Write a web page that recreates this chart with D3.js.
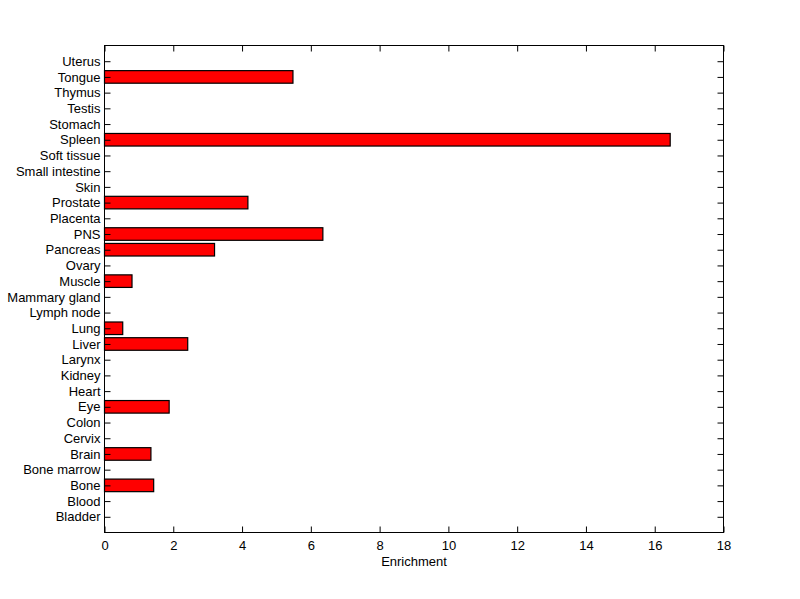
<!DOCTYPE html>
<html>
<head>
<meta charset="utf-8">
<script src="https://cdn.jsdelivr.net/npm/d3@7"></script>
<style>
  body { margin: 0; background: #fff; }
  text { font-family: "Liberation Sans", Arial, sans-serif; }
</style>
</head>
<body>
<div id="chart"></div>
<script>
// categories, bottom to top
const tissues = ["Bladder", "Blood", "Bone", "Bone marrow", "Brain", "Cervix", "Colon", "Eye",
    "Heart", "Kidney", "Larynx", "Liver", "Lung", "Lymph node", "Mammary gland", "Muscle",
    "Ovary", "Pancreas", "PNS", "Placenta", "Prostate", "Skin", "Small intestine",
    "Soft tissue", "Spleen", "Stomach", "Testis", "Thymus", "Tongue", "Uterus"];
const enrichment = [0, 0, 1.43, 0, 1.35, 0, 0, 1.88,
    0, 0, 0, 2.42, 0.53, 0, 0, 0.80,
    0, 3.20, 6.35, 0, 4.17, 0, 0,
    0, 16.45, 0, 0, 0, 5.48, 0];
const xTicks = [0, 2, 4, 6, 8, 10, 12, 14, 16, 18];

const width = 800;
const height = 599;
const margin = { left: 104.5, right: 76.5, top: 45.5, bottom: 66.5 };
const plotW = width - margin.left - margin.right;
const plotH = height - margin.top - margin.bottom;

const svg = d3.select("#chart")
    .append("svg")
    .attr("width", width)
    .attr("height", height)
    .append("g")
    .attr("transform", `translate(${margin.left}, ${margin.top})`);

const data = tissues.map((t, i) => ({ name: t, pos: i + 1, value: enrichment[i] }));

const xScale = d3.scaleLinear().domain([0, 18]).range([0, plotW]);
// positions 1..30 with half a slot padding each side (like matlab)
const yScale = d3.scaleLinear().domain([0, tissues.length + 1]).range([plotH, 0]);
const slot = plotH / (tissues.length + 1);
const barH = slot * 0.8;

// bars
svg.selectAll("rect.bar")
    .data(data.filter(d => d.value > 0))
    .enter()
    .append("rect")
    .attr("class", "bar")
    .attr("x", xScale(0))
    .attr("y", d => yScale(d.pos) - barH / 2)
    .attr("width", d => xScale(d.value) - xScale(0))
    .attr("height", barH)
    .attr("fill", "#ff0000")
    .attr("stroke", "#000")
    .attr("stroke-width", 1.2);

const tickLen = 6;

// bottom axis
const xAxis = svg.append("g")
    .attr("transform", `translate(0, ${plotH})`)
    .call(d3.axisBottom(xScale).tickValues(xTicks).tickSizeInner(-tickLen).tickSizeOuter(0).tickPadding(8));

// top axis (ticks only)
const xAxisTop = svg.append("g")
    .call(d3.axisTop(xScale).tickValues(xTicks).tickSizeInner(-tickLen).tickSizeOuter(0).tickFormat(""));

// left axis
const yAxis = svg.append("g")
    .call(d3.axisLeft(yScale)
        .tickValues(data.map(d => d.pos))
        .tickFormat((d, i) => tissues[d - 1])
        .tickSizeInner(-tickLen).tickSizeOuter(0).tickPadding(4));

// right axis (ticks only)
const yAxisRight = svg.append("g")
    .attr("transform", `translate(${plotW}, 0)`)
    .call(d3.axisRight(yScale)
        .tickValues(data.map(d => d.pos))
        .tickSizeInner(-tickLen).tickSizeOuter(0).tickFormat(""));

[xAxis, xAxisTop, yAxis, yAxisRight].forEach(a => {
    a.selectAll("path.domain").remove();
    a.selectAll("line").attr("stroke", "#000").attr("stroke-width", 1);
    a.selectAll("text").attr("font-size", "13px").attr("fill", "#000");
});

// box
svg.append("rect")
    .attr("x", 0)
    .attr("y", 0)
    .attr("width", plotW)
    .attr("height", plotH)
    .attr("fill", "none")
    .attr("stroke", "#000")
    .attr("stroke-width", 1);

svg.append("text")
    .attr("x", plotW / 2)
    .attr("y", plotH + 33)
    .attr("text-anchor", "middle")
    .attr("font-size", "13px")
    .attr("fill", "#000")
    .text("Enrichment");
</script>
</body>
</html>
